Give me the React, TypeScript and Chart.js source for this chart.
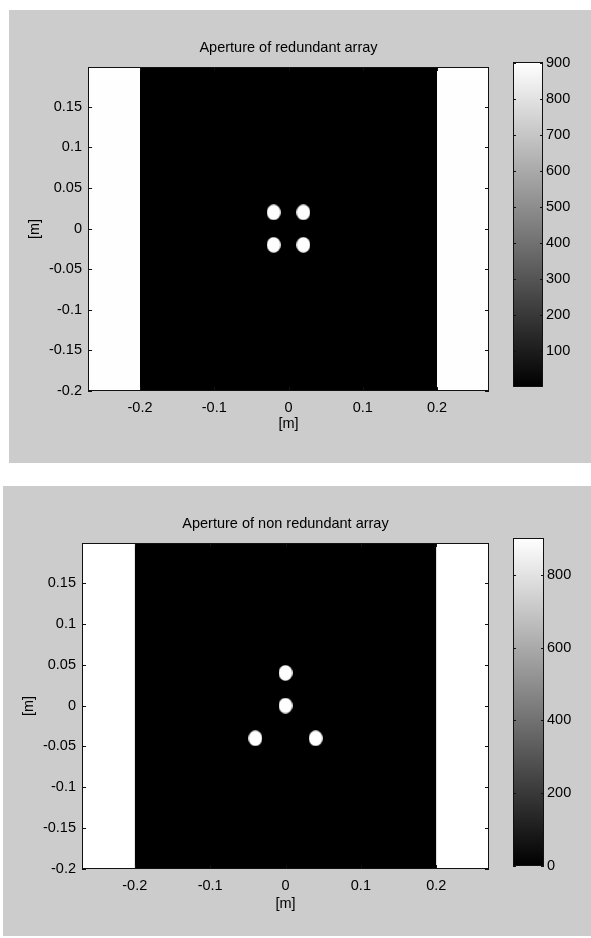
import React, { useEffect, useRef } from 'react';
import { Chart, registerables } from 'chart.js';
Chart.register(...registerables);

const FONT = '"Liberation Sans", Arial, Helvetica, sans-serif';
const FONT_SIZE = 14.5;

// ---------- data ----------
const xTicks = [-0.2, -0.1, 0, 0.1, 0.2];
const yTicks = [-0.2, -0.15, -0.1, -0.05, 0, 0.05, 0.1, 0.15];
const xRange = [-0.27, 0.27];
const yRange = [-0.2, 0.199];

// aperture field: columns between edges and their value
const bandEdges = [-0.27, -0.2, 0.2, 0.27];
const bandValues = [900, 0, 900];

const redundantTitle = 'Aperture of redundant array';
const redundantHoleX = [-0.02, 0.02, -0.02, 0.02];
const redundantHoleY = [0.02, 0.02, -0.02, -0.02];
const redundantCbRange = [0, 902];
const redundantCbTicks = [100, 200, 300, 400, 500, 600, 700, 800, 900];

const nonRedundantTitle = 'Aperture of non redundant array';
const nonRedundantHoleX = [0, 0, -0.04, 0.04];
const nonRedundantHoleY = [0.04, 0, -0.04, -0.04];
const nonRedundantCbRange = [0, 901];
const nonRedundantCbTicks = [0, 200, 400, 600, 800];

const holeValue = 900;
const axisLabel = '[m]';

// ---------- helpers ----------
function gray(v: number, lo: number, hi: number) {
  const t = Math.max(0, Math.min(1, (v - lo) / (hi - lo)));
  const g = Math.round(255 * t);
  return `rgb(${g},${g},${g})`;
}

function makeEllipse(color: string) {
  const c = document.createElement('canvas');
  c.width = 14;
  c.height = 16;
  const x = c.getContext('2d')!;
  x.fillStyle = color;
  x.beginPath();
  x.ellipse(7, 8, 6.9, 7.7, 0, 0, Math.PI * 2);
  x.fill();
  return c;
}

const frameTicks = (len: number, both: boolean, xTicksToo: boolean) => ({
  id: 'frameTicks',
  afterDraw(chart: any) {
    const { ctx, chartArea: a, scales } = chart;
    ctx.save();
    ctx.strokeStyle = '#111';
    ctx.lineWidth = 1;
    ctx.strokeRect(Math.round(a.left) + 0.5, Math.round(a.top) + 0.5, Math.round(a.right - a.left) - 1, Math.round(a.bottom - a.top) - 1);
    const y = scales.y;
    ctx.beginPath();
    for (const t of y.ticks) {
      const py = Math.round(y.getPixelForValue(t.value)) + 0.5;
      if (both) {
        ctx.moveTo(a.left, py);
        ctx.lineTo(a.left + len, py);
      }
      ctx.moveTo(a.right, py);
      ctx.lineTo(a.right - len, py);
    }
    if (xTicksToo) {
      const x = scales.x;
      for (const t of x.ticks) {
        const px = Math.round(x.getPixelForValue(t.value)) + 0.5;
        ctx.moveTo(px, a.bottom);
        ctx.lineTo(px, a.bottom - len);
        ctx.moveTo(px, a.top);
        ctx.lineTo(px, a.top + len);
      }
    }
    ctx.stroke();
    ctx.restore();
  },
});

type PanelProps = {
  title: string;
  holeX: number[];
  holeY: number[];
  cbRange: number[];
  cbTicks: number[];
  left: number;
  top: number;
  width: number;
  height: number;
  chartLeft: number;
  chartRight: number;
  chartTop: number;
  chartBottom: number;
  xTitleGap: number;
  cbLeft: number;
  cbRight: number;
  cbTop: number;
  cbBottom: number;
};

function MainPlot(p: PanelProps) {
  const ref = useRef<HTMLCanvasElement>(null);
  const W = 500 - p.left;
  const H = p.height;
  useEffect(() => {
    const cl = p.chartLeft - p.left;
    const cr = p.chartRight - p.left;
    const ct = p.chartTop - p.top;
    const cb = p.chartBottom - p.top;
    const xAxisH = 45;
    const lh = FONT_SIZE * 1.2;
    const titleCenter = ct - 19.5;
    const datasets: any[] = [];
    for (let i = 0; i < bandValues.length; i++) {
      datasets.push({
        type: 'line',
        data: [
          { x: bandEdges[i], y: yRange[1] },
          { x: bandEdges[i + 1], y: yRange[1] },
        ],
        borderWidth: 0,
        borderColor: 'rgba(0,0,0,0)',
        pointRadius: 0,
        fill: { value: yRange[0] },
        backgroundColor: gray(bandValues[i], p.cbRange[0], p.cbRange[1]),
        order: 2,
      });
    }
    datasets.push({
      type: 'scatter',
      data: p.holeX.map((x, i) => ({ x, y: p.holeY[i] })),
      pointStyle: makeEllipse(gray(holeValue, p.cbRange[0], p.cbRange[1])),
      order: 0,
    });
    const font = { family: FONT, size: FONT_SIZE };
    const chart = new Chart(ref.current!, {
      type: 'scatter',
      data: { datasets },
      options: {
        animation: false,
        responsive: false,
        devicePixelRatio: 1,
        events: [],
        layout: { padding: { left: 0, top: 0, right: W - cr, bottom: H - cb - xAxisH } },
        plugins: {
          legend: { display: false },
          tooltip: { enabled: false },
          title: {
            display: true,
            text: p.title,
            color: '#000',
            font: { family: FONT, size: FONT_SIZE, weight: 'normal' },
            fullSize: false,
            padding: { top: titleCenter - lh / 2, bottom: ct - (titleCenter + lh / 2) },
          },
        },
        scales: {
          x: {
            type: 'linear',
            min: xRange[0],
            max: xRange[1],
            afterBuildTicks: (s: any) => {
              s.ticks = xTicks.map((v) => ({ value: v }));
            },
            afterFit: (s: any) => {
              s.height = xAxisH;
            },
            ticks: { font, color: '#000', padding: 8, autoSkip: false, maxRotation: 0, callback: (v: any) => String(v) },
            grid: { display: false, drawTicks: false },
            border: { display: false },
            title: { display: true, text: axisLabel, font, color: '#000', padding: { top: 0, bottom: xAxisH - p.xTitleGap - lh / 2 } },
          },
          y: {
            type: 'linear',
            min: yRange[0],
            max: yRange[1],
            afterBuildTicks: (s: any) => {
              s.ticks = yTicks.map((v) => ({ value: v }));
            },
            afterFit: (s: any) => {
              s.width = cl;
            },
            ticks: { font, color: '#000', padding: 6, autoSkip: false, callback: (v: any) => String(v) },
            grid: { display: false, drawTicks: false },
            border: { display: false },
            title: { display: true, text: axisLabel, font, color: '#000', padding: { top: 26 - lh / 2, bottom: 0 } },
          },
        },
      } as any,
      plugins: [frameTicks(4, true, true)],
    });
    return () => chart.destroy();
  }, []);
  return (
    <canvas
      ref={ref}
      width={W}
      height={H}
      style={{ position: 'absolute', left: p.left, top: p.top, width: W, height: H, display: 'block' }}
    />
  );
}

function ColorBar(p: PanelProps) {
  const ref = useRef<HTMLCanvasElement>(null);
  const L = 500;
  const W = 591 - L;
  const H = p.height;
  useEffect(() => {
    const l = p.cbLeft - L;
    const r = p.cbRight - L;
    const t = p.cbTop - p.top;
    const b = p.cbBottom - p.top;
    const font = { family: FONT, size: FONT_SIZE };
    const chart = new Chart(ref.current!, {
      type: 'bar',
      data: {
        labels: [''],
        datasets: [
          {
            data: [[p.cbRange[0], p.cbRange[1]]],
            barPercentage: 1,
            categoryPercentage: 1,
            borderWidth: 0,
            backgroundColor: (c: any) => {
              const { chart: ch } = c;
              const a = ch.chartArea;
              if (!a) return '#000';
              const g = ch.ctx.createLinearGradient(0, a.bottom, 0, a.top);
              g.addColorStop(0, gray(p.cbRange[0], p.cbRange[0], p.cbRange[1]));
              g.addColorStop(1, gray(p.cbRange[1], p.cbRange[0], p.cbRange[1]));
              return g;
            },
          },
        ],
      },
      options: {
        animation: false,
        responsive: false,
        devicePixelRatio: 1,
        events: [],
        layout: { padding: { left: l, top: t, right: 0, bottom: H - b } },
        plugins: { legend: { display: false }, tooltip: { enabled: false } },
        scales: {
          x: { display: false },
          y: {
            position: 'right',
            min: p.cbRange[0],
            max: p.cbRange[1],
            afterBuildTicks: (s: any) => {
              s.ticks = p.cbTicks.map((v) => ({ value: v }));
            },
            afterFit: (s: any) => {
              s.width = W - r;
            },
            ticks: { font, color: '#000', padding: 3, autoSkip: false, callback: (v: any) => String(v) },
            grid: { display: false, drawTicks: false },
            border: { display: false },
          },
        },
      } as any,
      plugins: [frameTicks(3, true, false)],
    });
    return () => chart.destroy();
  }, []);
  return (
    <canvas
      ref={ref}
      width={W}
      height={H}
      style={{ position: 'absolute', left: L, top: p.top, width: W, height: H, display: 'block' }}
    />
  );
}

function Panel(p: PanelProps) {
  return (
    <>
      <div style={{ position: 'absolute', left: p.left, top: p.top, width: 591 - p.left, height: p.height, background: '#cccccc' }} />
      <MainPlot {...p} />
      <ColorBar {...p} />
    </>
  );
}

export default function App() {
  return (
    <div style={{ position: 'absolute', left: 0, top: 0, width: 591, height: 938, background: '#fff', overflow: 'hidden' }}>
      <Panel
        title={redundantTitle}
        holeX={redundantHoleX}
        holeY={redundantHoleY}
        cbRange={redundantCbRange}
        cbTicks={redundantCbTicks}
        left={9}
        top={10}
        width={582}
        height={453}
        chartLeft={88}
        chartRight={489}
        chartTop={67}
        chartBottom={391}
        xTitleGap={33}
        cbLeft={513}
        cbRight={543}
        cbTop={62}
        cbBottom={387}
      />
      <Panel
        title={nonRedundantTitle}
        holeX={nonRedundantHoleX}
        holeY={nonRedundantHoleY}
        cbRange={nonRedundantCbRange}
        cbTicks={nonRedundantCbTicks}
        left={3}
        top={486}
        width={588}
        height={450}
        chartLeft={82}
        chartRight={489}
        chartTop={543}
        chartBottom={869}
        xTitleGap={35}
        cbLeft={513}
        cbRight={544}
        cbTop={538}
        cbBottom={866}
      />
    </div>
  );
}
